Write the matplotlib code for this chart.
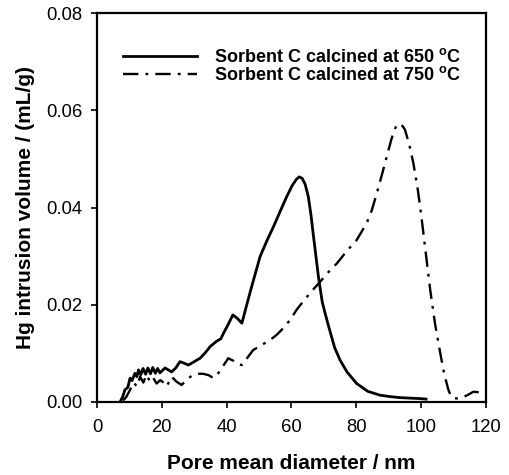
import matplotlib
matplotlib.use('Agg')
import matplotlib.pyplot as plt

plt.rcParams['font.family'] = ['Liberation Sans', 'DejaVu Sans']
plt.rcParams['mathtext.fontset'] = 'custom'
plt.rcParams['mathtext.rm'] = 'Liberation Sans'
plt.rcParams['mathtext.bf'] = 'Liberation Sans:bold'

# sorbent C calcined at 650 C
d650 = [7.1, 8.0, 8.6, 9.5, 10.2, 10.8, 11.7, 12.3, 12.8, 13.5, 14.2, 15.0, 15.7, 16.5, 17.2,
        18.0, 18.7, 19.4, 20.2, 21.0, 22.0, 23.0, 24.3, 25.6, 26.8, 28.2, 30.0, 31.8, 33.5,
        34.9, 36.9, 38.2, 39.0, 40.5, 41.9, 43.3, 44.7, 46.0, 47.7, 49.0, 50.3, 52.3, 54.4,
        56.5, 58.5, 60.2, 61.5, 62.4, 63.3, 64.2, 65.2, 66.0, 66.8, 68.3, 69.5, 70.9, 71.9,
        73.3, 75.0, 77.1, 80.1, 83.5, 87.3, 90.5, 93.5, 96.5, 99.7, 101.5]
v650 = [0.0000, 0.0012, 0.0025, 0.0030, 0.0049, 0.0044, 0.0059, 0.0052, 0.0066, 0.0056,
        0.0069, 0.0057, 0.0070, 0.0058, 0.0071, 0.0059, 0.0069, 0.0060, 0.0065, 0.0070,
        0.0066, 0.0062, 0.0070, 0.0083, 0.0080, 0.0076, 0.0083, 0.0090, 0.0102, 0.0114,
        0.0125, 0.0130, 0.0141, 0.0160, 0.0179, 0.0172, 0.0162, 0.0195, 0.0237, 0.0268,
        0.0299, 0.0330, 0.0360, 0.0392, 0.0422, 0.0445, 0.0458, 0.0463, 0.0460, 0.0448,
        0.0422, 0.0385, 0.0340, 0.0258, 0.0205, 0.0169, 0.0145, 0.0112, 0.0086, 0.0062,
        0.0038, 0.0022, 0.0014, 0.0011, 0.0009, 0.0008, 0.0007, 0.0006]

# sorbent C calcined at 750 C
d750 = [8.0, 9.0, 10.2, 11.3, 12.3, 13.3, 14.3, 15.3, 16.3, 17.3, 18.4, 19.5, 20.5, 21.5,
        23.0, 24.5, 26.1, 28.0, 29.7, 31.3, 32.8, 34.5, 35.9, 37.5, 39.0, 40.5, 42.0, 43.3,
        44.7, 46.5, 48.2, 51.0, 53.5, 55.4, 57.5, 59.6, 61.6, 64.0, 66.5, 68.8, 71.9, 74.0,
        77.0, 80.1, 83.2, 84.8, 86.3, 88.0, 89.4, 90.8, 91.8, 92.5, 93.3, 94.2, 95.0, 96.3,
        97.6, 99.0, 100.2, 101.5, 102.8, 104.3, 105.9, 107.2, 108.4, 109.2, 110.0, 111.5,
        113.0, 114.5, 116.1, 118.0, 119.8]
v750 = [0.0003, 0.0010, 0.0025, 0.0040, 0.0032, 0.0052, 0.0040, 0.0056, 0.0042, 0.0050,
        0.0038, 0.0045, 0.0040, 0.0032, 0.0052, 0.0042, 0.0035, 0.0048, 0.0056, 0.0058,
        0.0058, 0.0055, 0.0049, 0.0060, 0.0075, 0.0090, 0.0085, 0.0078, 0.0076, 0.0092,
        0.0107, 0.0118, 0.0128, 0.0138, 0.0152, 0.0169, 0.0190, 0.0210, 0.0230, 0.0247,
        0.0271, 0.0285, 0.0310, 0.0333, 0.0368, 0.0395, 0.0429, 0.0470, 0.0505, 0.0540,
        0.0560, 0.0570, 0.0572, 0.0568, 0.0560, 0.0530, 0.0491, 0.0435, 0.0374, 0.0302,
        0.0230, 0.0160, 0.0100, 0.0055, 0.0025, 0.0012, 0.0008, 0.0007, 0.0010, 0.0015,
        0.0021, 0.0020, 0.0019]

xticks = [0, 20, 40, 60, 80, 100, 120]
yticks = [0.00, 0.02, 0.04, 0.06, 0.08]

fig = plt.figure(figsize=(5.1, 4.75), dpi=100)
ax = fig.add_axes([97 / 510, 73 / 475, 389 / 510, 389 / 475])

ax.plot(d650, v650, color='black', lw=2.0, solid_joinstyle='round',
        label=r'Sorbent C calcined at 650 $^{\mathbf{o}}$C')
ax.plot(d750, v750, color='black', lw=1.7, dashes=(6.5, 3, 1.2, 3),
        label=r'Sorbent C calcined at 750 $^{\mathbf{o}}$C')

ax.set_xlim(0, 120)
ax.set_ylim(0, 0.08)
ax.set_xticks(xticks)
ax.set_yticks(yticks)
ax.set_yticklabels(['%.2f' % t for t in yticks])
ax.tick_params(direction='out', length=4.5, width=1.2, labelsize=13.3, top=False, right=False)
ax.tick_params(axis='y', pad=6)
ax.tick_params(axis='x', pad=8)
for s in ax.spines.values():
    s.set_linewidth(1.6)

ax.set_xlabel('Pore mean diameter / nm', fontsize=15, fontweight='bold', labelpad=13)
ax.set_ylabel('Hg intrusion volume / (mL/g)', fontsize=15, fontweight='bold', labelpad=8)

leg = ax.legend(loc='upper left', bbox_to_anchor=(0.035, 0.942), frameon=False,
                handlelength=4.1, handletextpad=0.95, labelspacing=0.0,
                borderpad=0.2, prop={'weight': 'bold', 'size': 13})

fig.savefig('out.png', dpi=100)
